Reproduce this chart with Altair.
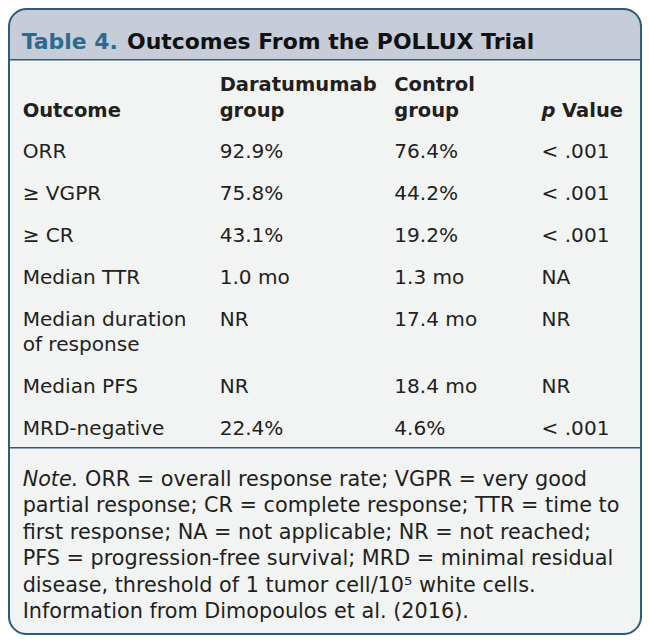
import altair as alt
import pandas as pd

# ---- table content ----
title_label = "Table 4."
title_text = "Outcomes From the POLLUX Trial"
header_line1 = ["", "Daratumumab", "Control", ""]
header_line2 = ["Outcome", "group", "group", "Value"]
outcomes = ["ORR", "≥ VGPR", "≥ CR", "Median TTR", "Median duration\nof response", "Median PFS", "MRD-negative"]
daratumumab = ["92.9%", "75.8%", "43.1%", "1.0 mo", "NR", "NR", "22.4%"]
control = ["76.4%", "44.2%", "19.2%", "1.3 mo", "17.4 mo", "18.4 mo", "4.6%"]
p_values = ["< .001", "< .001", "< .001", "NA", "NR", "NR", "< .001"]
note_lead = "Note."
note_lines = [
    "ORR = overall response rate; VGPR = very good",
    "partial response; CR = complete response; TTR = time to",
    "first response; NA = not applicable; NR = not reached;",
    "PFS = progression-free survival; MRD = minimal residual",
    "disease, threshold of 1 tumor cell/10⁵ white cells.",
    "Information from Dimopoulos et al. (2016).",
]

# ---- layout (reference pixel space 650 x 643, scaled into the page) ----
RW, RH = 650, 643
W, H = 634, 627
S = W / RW
FONT = "DejaVu Sans"
INK = "#231f20"
BORDER = "#2d5c7a"
TEAL = "#2c6a8f"
BAR = "#c6cdd8"
BODY = "#f2f3f3"
FS = 20.6 * S
NFS = 21.3 * S
HFS = 20 * S
TFS = 22.5 * S

XS = alt.Scale(domain=[0, RW], range=[0, W], nice=False, zero=False)
YS = alt.Scale(domain=[0, RH], range=[0, H], nice=False, zero=False)


def enc(**kw):
    e = dict(
        x=alt.X("x:Q", scale=XS, axis=None),
        y=alt.Y("y:Q", scale=YS, axis=None),
    )
    e.update(kw)
    return e


col_x = [15, 217, 396, 547]
row_gap = 43
line_gap = 26
first_row = 154

rows = []
yb = first_row
for i in range(len(outcomes)):
    for c, vals in enumerate([outcomes, daratumumab, control, p_values]):
        rows.append({"x": col_x[c], "y": yb, "text": vals[i]})
    yb += row_gap + line_gap * outcomes[i].count("\n")
body_df = pd.DataFrame(rows)

hdr = []
for c in range(4):
    if header_line1[c]:
        hdr.append({"x": col_x[c], "y": 85, "text": header_line1[c]})
    hx = col_x[c] + (21 if c == 3 else 0)
    hdr.append({"x": hx, "y": 111.5, "text": header_line2[c]})
hdr_df = pd.DataFrame(hdr)

note_df = pd.DataFrame(
    [{"x": (79 if i == 0 else 15), "y": 490 + 27.2 * i, "text": t} for i, t in enumerate(note_lines)]
)

# ---- shapes ----
frame = pd.DataFrame([{"x": 1, "x2": 649, "y": 1, "y2": 642}])
bar = pd.DataFrame([{"x": 1, "x2": 649, "y": 1, "y2": 53}])
lines = pd.DataFrame([{"x": 1, "x2": 649, "y": 53}, {"x": 1, "x2": 649, "y": 451}])

bg = alt.Chart(frame).mark_rect(fill=BODY, cornerRadius=18 * S).encode(
    x=alt.X("x:Q", scale=XS, axis=None), x2="x2:Q",
    y=alt.Y("y:Q", scale=YS, axis=None), y2="y2:Q")
bar_l = alt.Chart(bar).mark_rect(fill=BAR, cornerRadiusTopLeft=18 * S, cornerRadiusTopRight=18 * S).encode(
    x=alt.X("x:Q", scale=XS, axis=None), x2="x2:Q",
    y=alt.Y("y:Q", scale=YS, axis=None), y2="y2:Q")
rules = alt.Chart(lines).mark_rule(color=BORDER, strokeWidth=1.6).encode(
    x=alt.X("x:Q", scale=XS, axis=None), x2="x2:Q",
    y=alt.Y("y:Q", scale=YS, axis=None))
border = alt.Chart(frame).mark_rect(fill=None, fillOpacity=0, stroke=BORDER, strokeWidth=2,
                                    cornerRadius=18 * S).encode(
    x=alt.X("x:Q", scale=XS, axis=None), x2="x2:Q",
    y=alt.Y("y:Q", scale=YS, axis=None), y2="y2:Q")

tkw = dict(align="left", baseline="alphabetic", font=FONT)

title1 = alt.Chart(pd.DataFrame([{"x": 14, "y": 42, "text": title_label}])).mark_text(
    fontSize=TFS, fontWeight="bold", color=TEAL, **tkw).encode(**enc(text="text:N"))
title2 = alt.Chart(pd.DataFrame([{"x": 122, "y": 42, "text": title_text}])).mark_text(
    fontSize=TFS, fontWeight="bold", color="#111111", **tkw).encode(**enc(text="text:N"))

header = alt.Chart(hdr_df).mark_text(fontSize=HFS, fontWeight="bold", color=INK, **tkw).encode(
    **enc(text="text:N"))
p_ital = alt.Chart(pd.DataFrame([{"x": col_x[3], "y": 111.5, "text": "p"}])).mark_text(
    fontSize=HFS, fontWeight="bold", fontStyle="italic", color=INK, **tkw).encode(**enc(text="text:N"))

body = alt.Chart(body_df).mark_text(fontSize=FS, color=INK, lineBreak="\n", lineHeight=line_gap * S,
                                    **tkw).encode(**enc(text="text:N"))

note_it = alt.Chart(pd.DataFrame([{"x": 15, "y": 490, "text": note_lead}])).mark_text(
    fontSize=NFS, fontStyle="italic", color=INK, **tkw).encode(**enc(text="text:N"))
notes = alt.Chart(note_df).mark_text(fontSize=NFS, color=INK, **tkw).encode(**enc(text="text:N"))

chart = alt.layer(bg, bar_l, rules, border, title1, title2, header, p_ital, body, note_it, notes).properties(
    width=W, height=H, padding=0, autosize=alt.AutoSizeParams(type="none")
).configure_view(stroke=None)

chart.save("out.html", embed_options={"renderer": "svg", "actions": False})
